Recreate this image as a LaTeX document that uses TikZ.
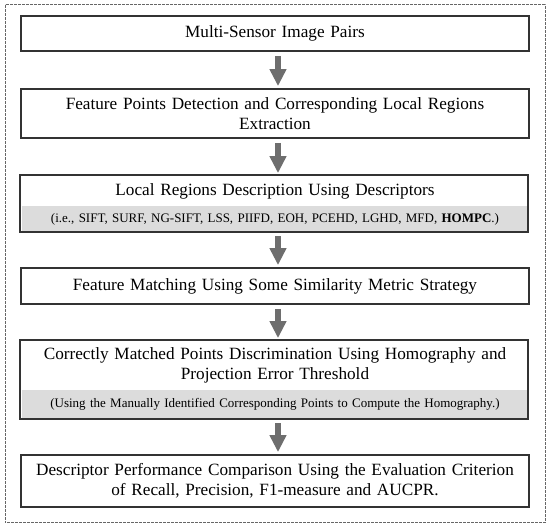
\documentclass[tikz,border=0pt]{standalone}
\usepackage{fontspec}
\setmainfont{Liberation Serif}
\usetikzlibrary{arrows.meta}

\definecolor{bandgray}{HTML}{DCDCDC}
\definecolor{arrowgray}{HTML}{6E6E6E}
\definecolor{edgegray}{HTML}{333333}

\tikzset{
  stepbox/.style={draw=edgegray, line width=1.8pt, minimum width=508pt,
    text width=494pt, align=center, inner xsep=7pt, inner ysep=0pt,
    font=\fontsize{17.2}{19.5}\selectfont},
  steptext/.style={stepbox, draw=none},
  band/.style={fill=bandgray, minimum width=506pt, text width=494pt,
    align=center, inner xsep=6pt, inner ysep=0pt,
    font=\fontsize{13}{15}\selectfont},
  flowarrow/.style={draw=arrowgray, line width=5.5pt,
    -{Triangle[width=16pt,length=17pt]}, shorten <=4pt, shorten >=2pt},
}

\begin{document}
\begin{tikzpicture}[x=1pt,y=-1pt]

    \useasboundingbox (0,0) rectangle (550,529);

    % Outer frame
    \draw[draw=gray!80!black, line width=1pt, dash pattern=on 2.6pt off 1.4pt]
      (5,5) rectangle (545,523);

    % Nodes
    \node[stepbox, minimum height=35pt] (pairs)  at (275,33.5) {Multi-Sensor Image Pairs};
    \node[stepbox, minimum height=49pt] (detect) at (275,113.5)
      {Feature Points Detection and Corresponding Local Regions\\Extraction};

    \node[band, minimum height=26pt]     (descband) at (275,219)
      {(i.e., SIFT, SURF, NG-SIFT, LSS, PIIFD, EOH, PCEHD, LGHD, MFD, \textbf{HOMPC}.)};
    \node[steptext, minimum height=30pt] (descr)    at (275,191)
      {Local Regions Description Using Descriptors};
    \draw[draw=edgegray, line width=1.8pt] (descr.north west) rectangle (descband.south east);

    \node[stepbox, minimum height=36pt] (match) at (275,286)
      {Feature Matching Using Some Similarity Metric Strategy};

    \node[band, minimum height=29pt]     (homoband) at (275,404.5)
      {(Using the Manually Identified Corresponding Points to Compute the Homography.)};
    \node[steptext, minimum height=49pt] (homo)     at (275,365.5)
      {Correctly Matched Points Discrimination Using Homography and\\Projection Error Threshold};
    \draw[draw=edgegray, line width=2.4pt] (homo.north west) rectangle (homoband.south east);

    \node[stepbox, minimum height=52pt] (compare) at (275,481)
      {Descriptor Performance Comparison Using the Evaluation Criterion\\of Recall, Precision, F1-measure and AUCPR.};

    % Arrows
    \draw[flowarrow] ([xshift=3pt]pairs.south)    -- ([xshift=3pt]detect.north);
    \draw[flowarrow] ([xshift=3pt]detect.south)   -- ([xshift=3pt]descr.north);
    \draw[flowarrow] ([xshift=3pt]descband.south) -- ([xshift=3pt]match.north);
    \draw[flowarrow] ([xshift=3pt]match.south)    -- ([xshift=3pt]homo.north);
    \draw[flowarrow] ([xshift=3pt]homoband.south) -- ([xshift=3pt]compare.north);

\end{tikzpicture}
\end{document}
